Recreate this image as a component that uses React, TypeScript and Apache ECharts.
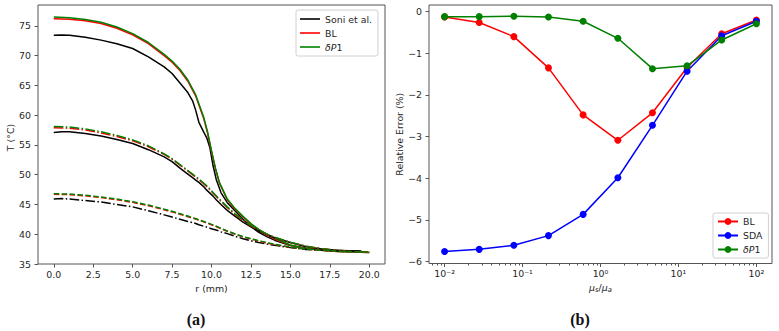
import { useEffect, useRef } from 'react';
import * as echarts from 'echarts';

// ---------- Panel (a): temperature profiles ----------
const radiusSoni = [0, 0.5, 1, 2, 3, 4, 5, 6, 7, 7.5, 8, 8.5, 8.8, 9, 9.2, 9.5, 9.7, 9.9, 10.1, 10.3, 10.6, 11, 11.5, 12, 12.5, 13, 13.5, 14, 15, 16, 17, 18, 19, 19.5];
const soniHigh = [73.4, 73.45, 73.4, 73.1, 72.6, 72.0, 71.2, 69.8, 68.1, 67.0, 65.4, 63.8, 62.4, 60.8, 58.8, 57.2, 56.2, 54.5, 51.5, 49.2, 47.0, 45.3, 43.9, 42.5, 41.3, 40.3, 39.6, 39.0, 38.1, 37.6, 37.35, 37.2, 37.15, 37.15];
const soniMid = [57.1, 57.2, 57.2, 56.9, 56.5, 55.9, 55.25, 54.2, 53.0, 52.2, 51.1, 50.1, 49.5, 49.1, 48.7, 48.0, 47.4, 46.9, 46.4, 45.8, 45.0, 44.0, 43.0, 42.05, 41.25, 40.55, 39.95, 39.4, 38.6, 37.9, 37.5, 37.3, 37.2, 37.15];
const soniLow = [45.9, 46.0, 45.9, 45.65, 45.4, 45.0, 44.6, 43.95, 43.25, 42.9, 42.5, 42.15, 41.95, 41.8, 41.6, 41.35, 41.2, 41.0, 40.85, 40.7, 40.4, 40.1, 39.65, 39.25, 38.9, 38.6, 38.35, 38.15, 37.75, 37.45, 37.3, 37.2, 37.15, 37.15];

const radiusModel = [0, 1, 2, 3, 4, 5, 6, 7, 7.5, 8, 8.5, 9, 9.5, 9.75, 10, 10.25, 10.5, 11, 11.5, 12, 12.5, 13, 13.5, 14, 15, 16, 17, 18, 19, 20];
const blHigh = [76.2, 76.1, 75.85, 75.4, 74.6, 73.5, 72.0, 70.0, 68.9, 67.5, 65.7, 63.2, 59.5, 57.0, 53.9, 51.0, 48.6, 45.8, 44.2, 42.9, 41.7, 40.7, 39.9, 39.2, 38.15, 37.6, 37.3, 37.1, 37.0, 36.95];
const dp1High = [76.5, 76.35, 76.05, 75.6, 74.8, 73.7, 72.2, 70.2, 69.1, 67.7, 65.9, 63.4, 59.7, 57.2, 54.0, 51.1, 48.7, 45.9, 44.3, 43.0, 41.8, 40.8, 40.0, 39.3, 38.2, 37.6, 37.3, 37.1, 37.0, 36.95];
const blMid = [57.9, 57.8, 57.5, 57.0, 56.4, 55.7, 54.7, 53.4, 52.6, 51.6, 50.6, 49.6, 48.5, 47.9, 47.2, 46.5, 45.8, 44.5, 43.3, 42.3, 41.4, 40.65, 40.0, 39.45, 38.6, 38.0, 37.55, 37.3, 37.1, 37.0];
const dp1Mid = [58.1, 58.0, 57.7, 57.2, 56.6, 55.85, 54.85, 53.5, 52.7, 51.7, 50.7, 49.7, 48.6, 48.0, 47.3, 46.6, 45.9, 44.6, 43.4, 42.4, 41.5, 40.7, 40.05, 39.5, 38.65, 38.0, 37.55, 37.3, 37.1, 37.0];
const blLow = [46.7, 46.65, 46.45, 46.15, 45.8, 45.35, 44.8, 44.1, 43.75, 43.35, 42.95, 42.55, 42.1, 41.85, 41.6, 41.35, 41.05, 40.5, 40.0, 39.55, 39.2, 38.85, 38.55, 38.25, 37.8, 37.5, 37.3, 37.15, 37.05, 37.0];
const dp1Low = [46.8, 46.75, 46.55, 46.25, 45.9, 45.45, 44.9, 44.2, 43.85, 43.45, 43.05, 42.6, 42.15, 41.9, 41.65, 41.4, 41.1, 40.55, 40.05, 39.6, 39.25, 38.9, 38.6, 38.3, 37.85, 37.5, 37.3, 37.15, 37.05, 37.0];

const radiusTicks = [0, 2.5, 5, 7.5, 10, 12.5, 15, 17.5, 20];
const tempTicks = [35, 40, 45, 50, 55, 60, 65, 70, 75];

// ---------- Panel (b): relative error ----------
const ratio = [0.01, 0.0278, 0.0774, 0.215, 0.599, 1.67, 4.64, 12.9, 35.9, 100];
const errBL = [-0.13, -0.26, -0.6, -1.35, -2.48, -3.09, -2.43, -1.34, -0.53, -0.2];
const errSDA = [-5.76, -5.71, -5.61, -5.38, -4.87, -3.99, -2.73, -1.43, -0.58, -0.23];
const errDP1 = [-0.12, -0.12, -0.11, -0.13, -0.23, -0.64, -1.37, -1.3, -0.68, -0.29];
const ratioTicks = [0.01, 0.1, 1, 10, 100];
const errorTicks = [-6, -5, -4, -3, -2, -1, 0];

const FONT = 'DejaVu Sans';
const FS = 9.4;
const TXT = '#262626';
const FRAME = '#555555';
const DASHDOT = [9.6, 2.4, 1.5, 2.4];
const DASHED = [5.5, 2.4];

const LOG_MIN = -2.2;
const LOG_MAX = 2.2;

const sup: Record<string, string> = { '-2': '⁻²', '-1': '⁻¹', '0': '⁰', '1': '¹', '2': '²' };

function pairs(xs: number[], ys: number[]) {
  return xs.map((x, i) => [x, ys[i]]);
}

function minorLogTicks() {
  const out: number[] = [];
  for (let e = -3; e <= 2; e++) {
    for (let k = 2; k <= 9; k++) {
      const v = Math.log10(k * Math.pow(10, e));
      if (v >= LOG_MIN && v <= LOG_MAX) out.push(v);
    }
  }
  return out;
}

function legendFormatter(name: string) {
  const base = name.replace(/-[ab]$/, '');
  return base === 'δP1' ? '{i|δP}1' : base;
}

function tempLine(name: string, xs: number[], ys: number[], color: string, type: any) {
  return {
    type: 'line',
    name,
    xAxisIndex: 0,
    yAxisIndex: 0,
    data: pairs(xs, ys),
    symbol: 'none',
    showSymbol: false,
    lineStyle: { color, width: 1.5, type },
    itemStyle: { color },
    emphasis: { disabled: true },
  };
}

function errLine(name: string, ys: number[], color: string) {
  return {
    type: 'line',
    name,
    xAxisIndex: 1,
    yAxisIndex: 1,
    data: ratio.map((r, i) => [Math.log10(r), ys[i]]),
    symbol: 'circle',
    symbolSize: 7,
    lineStyle: { color, width: 1.5 },
    itemStyle: { color },
    emphasis: { disabled: true },
  };
}

const tickLabel = { color: TXT, fontFamily: FONT, fontSize: FS };

const legendText = {
  color: TXT, fontFamily: FONT, fontSize: FS, lineHeight: 10,
  rich: { i: { fontStyle: 'italic', fontFamily: FONT, fontSize: FS, color: TXT, lineHeight: 10 } },
};

export default function App() {
  const ref = useRef<HTMLDivElement>(null);

  useEffect(() => {
    const chart = echarts.init(ref.current!, null, { renderer: 'svg' });
    const option: any = {
      animation: false,
      backgroundColor: '#ffffff',
      textStyle: { fontFamily: FONT },
      grid: [
        { left: 38, top: 5, width: 347, height: 259, show: true, borderColor: FRAME, borderWidth: 1, backgroundColor: 'transparent' },
        { left: 429, top: 5, width: 343, height: 258.5, show: true, borderColor: FRAME, borderWidth: 1, backgroundColor: 'transparent' },
      ],
      xAxis: [
        {
          type: 'value', gridIndex: 0, min: -1, max: 21, position: 'bottom',
          name: 'r (mm)', nameLocation: 'middle', nameGap: 18,
          nameTextStyle: { color: TXT, fontFamily: FONT, fontSize: FS },
          axisLine: { show: false, onZero: false },
          axisTick: { show: true, length: 3.5, lineStyle: { color: FRAME }, customValues: radiusTicks },
          axisLabel: { ...tickLabel, margin: 6, customValues: radiusTicks, formatter: (v: number) => v.toFixed(1) },
          splitLine: { show: false },
        },
        {
          type: 'value', gridIndex: 1, min: LOG_MIN, max: LOG_MAX, position: 'bottom',
          name: '{i|μ}{s|s}/{i|μ}{s|a}', nameLocation: 'middle', nameGap: 17,
          nameTextStyle: {
            color: TXT, fontFamily: FONT, fontSize: FS,
            rich: {
              i: { fontStyle: 'italic', fontFamily: FONT, fontSize: FS, color: TXT },
              s: { fontStyle: 'italic', fontFamily: FONT, fontSize: 6.8, color: TXT, padding: [6, 0, 0, 0] },
            },
          },
          axisLine: { show: false, onZero: false },
          axisTick: { show: true, length: 3.5, lineStyle: { color: FRAME }, customValues: ratioTicks.map((v) => Math.round(Math.log10(v))) },
          axisLabel: {
            ...tickLabel, margin: 5,
            customValues: ratioTicks.map((v) => Math.round(Math.log10(v))),
            formatter: (v: number) => '10' + sup[String(Math.round(v))],
          },
          splitLine: { show: false },
        },
        {
          type: 'value', gridIndex: 1, min: LOG_MIN, max: LOG_MAX, position: 'bottom', offset: 0,
          axisLine: { show: false, onZero: false },
          axisTick: { show: true, length: 2, lineStyle: { color: FRAME }, customValues: minorLogTicks() },
          axisLabel: { show: false },
          splitLine: { show: false },
        },
      ],
      yAxis: [
        {
          type: 'value', gridIndex: 0, min: 35, max: 78.5,
          name: 'T (°C)', nameLocation: 'middle', nameGap: 23,
          nameTextStyle: { color: TXT, fontFamily: FONT, fontSize: FS, padding: [0, 6, 0, 0] },
          axisLine: { show: false, onZero: false },
          axisTick: { show: true, length: 3.5, lineStyle: { color: FRAME }, customValues: tempTicks },
          axisLabel: { ...tickLabel, margin: 7, customValues: tempTicks },
          splitLine: { show: false },
        },
        {
          type: 'value', gridIndex: 1, min: -6.05, max: 0.16,
          name: 'Relative Error (%)', nameLocation: 'middle', nameGap: 25,
          nameTextStyle: { color: TXT, fontFamily: FONT, fontSize: FS },
          axisLine: { show: false, onZero: false },
          axisTick: { show: true, length: 3.5, lineStyle: { color: FRAME }, customValues: errorTicks },
          axisLabel: {
            ...tickLabel, margin: 7, customValues: errorTicks,
            formatter: (v: number) => (v < 0 ? '−' + Math.abs(v) : '0'),
          },
          splitLine: { show: false },
        },
      ],
      legend: [
        {
          data: ['Soni et al.', 'BL-a', 'δP1-a'].map((n) => ({ name: n, icon: 'rect' })),
          orient: 'vertical', left: 296, top: 10,
          padding: [4, 6, 4, 4], itemWidth: 20, itemHeight: 1.6, itemGap: 4,
          backgroundColor: 'rgba(255,255,255,0.8)', borderColor: '#d0d0d0', borderWidth: 1, borderRadius: 2,
          selectedMode: false,
          formatter: legendFormatter,
          textStyle: legendText,
        },
        {
          data: ['BL-b', 'SDA-b', 'δP1-b'],
          orient: 'vertical', left: 713, top: 213,
          padding: [3.5, 6, 3.5, 4], itemWidth: 20, itemHeight: 8.5, itemGap: 4,
          backgroundColor: 'rgba(255,255,255,0.8)', borderColor: '#d0d0d0', borderWidth: 1, borderRadius: 2,
          selectedMode: false,
          formatter: legendFormatter,
          textStyle: legendText,
        },
      ],
      series: [
        tempLine('Soni et al.', radiusSoni, soniHigh, '#000000', 'solid'),
        tempLine('BL-a', radiusModel, blHigh, '#ff0000', 'solid'),
        tempLine('δP1-a', radiusModel, dp1High, '#008000', 'solid'),
        tempLine('Soni et al.', radiusSoni, soniMid, '#000000', 'solid'),
        tempLine('BL-a', radiusModel, blMid, '#ff0000', DASHDOT),
        tempLine('δP1-a', radiusModel, dp1Mid, '#008000', DASHDOT),
        tempLine('Soni et al.', radiusSoni, soniLow, '#000000', DASHDOT),
        tempLine('BL-a', radiusModel, blLow, '#ff0000', DASHED),
        tempLine('δP1-a', radiusModel, dp1Low, '#008000', DASHED),
        errLine('BL-b', errBL, '#ff0000'),
        errLine('SDA-b', errSDA, '#0000ff'),
        errLine('δP1-b', errDP1, '#008000'),
      ],
      graphic: [
        {
          type: 'text', x: 196, y: 319,
          style: { text: '(a)', fill: '#111', fontFamily: 'Liberation Serif', fontWeight: 'bold', fontSize: 16, align: 'center', verticalAlign: 'middle', textAlign: 'center', textVerticalAlign: 'middle' },
        },
        {
          type: 'text', x: 580, y: 319,
          style: { text: '(b)', fill: '#111', fontFamily: 'Liberation Serif', fontWeight: 'bold', fontSize: 16, align: 'center', verticalAlign: 'middle', textAlign: 'center', textVerticalAlign: 'middle' },
        },
      ],
    };
    chart.setOption(option);
    return () => chart.dispose();
  }, []);

  return (
    <div
      ref={ref}
      style={{ position: 'fixed', left: 0, top: 0, width: 779, height: 331, background: '#ffffff' }}
    />
  );
}
